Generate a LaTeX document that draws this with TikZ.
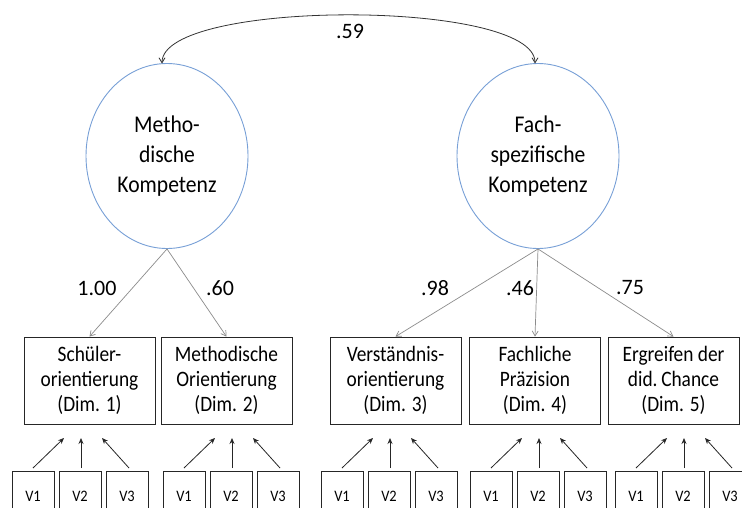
\documentclass[tikz,border=0pt]{standalone}
\usepackage{fontspec}
\setmainfont{Carlito}
\newfontfamily\boxfont[FakeStretch=0.88]{Carlito}
\newfontfamily\ellfont[FakeStretch=0.9]{Carlito}
\usetikzlibrary{shapes.geometric,arrows.meta}
\definecolor{ellblue}{RGB}{120,160,215}
\definecolor{lgray}{RGB}{140,140,140}
\tikzset{
  latent/.style={draw=ellblue,line width=0.9pt,ellipse,minimum width=162pt,minimum height=185pt,inner sep=0pt,align=center,font=\ellfont\fontsize{24}{30}\selectfont},
  dimbox/.style={draw=black!85,line width=0.8pt,minimum width=131pt,minimum height=87pt,inner sep=0pt,align=center,font=\boxfont\fontsize{22}{25}\selectfont},
  vbox/.style={draw=black!85,line width=0.8pt,minimum width=42pt,minimum height=50pt,inner sep=0pt,font=\ellfont\fontsize{16}{18}\selectfont},
  load/.style={draw=lgray,line width=0.7pt,-{Straight Barb[length=5pt,width=6pt]}},
  ind/.style={draw=black!85,line width=0.8pt,-{Stealth[length=6pt,width=5pt]}},
  coef/.style={font=\fontsize{22}{24}\selectfont},
}
\begin{document}
\begin{tikzpicture}[x=1pt,y=-1pt]
\useasboundingbox (0,0) rectangle (742,507);
\clip (0,0) rectangle (742,507);
\fill[white] (0,0) rectangle (742,507);
\node[latent] (L) at (167,156) {Metho-\\dische\\Kompetenz};
\node[latent] (R) at (538,156) {Fach-\\spezifische\\Kompetenz};
\coordinate (La) at (162,63.5);
\coordinate (Ra) at (535,63.5);
\draw[draw=black!80,line width=0.8pt,{Straight Barb[length=5pt,width=6pt]}-{Straight Barb[length=5pt,width=6pt]}] (La) .. controls (162,-1) and (535,-1) .. (Ra);
\node[coef] (c59) at (350,31) {.59};

\node[dimbox] (D1) at (89.5,380.5) {Schüler-\\orientierung\\(Dim. 1)};
\node[dimbox] (D2) at (226.5,380.5) {Methodische\\Orientierung\\(Dim. 2)};
\node[dimbox] (D3) at (395.5,380.5) {Verständnis-\\orientierung\\(Dim. 3)};
\node[dimbox] (D4) at (535,380.5) {Fachliche\\Präzision\\(Dim. 4)};
\node[dimbox] (D5) at (673.5,380.5) {Ergreifen der\\did.\,Chance\\(Dim. 5)};

\draw[load] (L.south) -- (D1.north);
\draw[load] (L.south) -- (D2.north);
\draw[load] (R.south) -- (D3.north);
\draw[load] (R.south) -- (D4.north);
\draw[load] (R.south) -- (D5.north);

\node[coef] (c1) at (97,288) {1.00};
\node[coef] (c2) at (220,288) {.60};
\node[coef] (c3) at (435,288) {.98};
\node[coef] (c4) at (520,288) {.46};
\node[coef] (c5) at (630,288) {.75};

\foreach \i/\l in {1/12,2/163,3/321,4/470,5/615}{
  \node[vbox] (v\i a) at (\l+21,496) {V1};
  \node[vbox] (v\i b) at (\l+68,496) {V2};
  \node[vbox] (v\i c) at (\l+115,496) {V3};
  \coordinate (e\i a) at (\l+52,438);
  \coordinate (e\i b) at (\l+69,438);
  \coordinate (e\i c) at (\l+90,438);
  \coordinate (s\i a) at (\l+21,468);
  \coordinate (s\i b) at (\l+69,468);
  \coordinate (s\i c) at (\l+117,468);
  \draw[ind] (s\i a) -- (e\i a);
  \draw[ind] (s\i b) -- (e\i b);
  \draw[ind] (s\i c) -- (e\i c);
}
\end{tikzpicture}
\end{document}
